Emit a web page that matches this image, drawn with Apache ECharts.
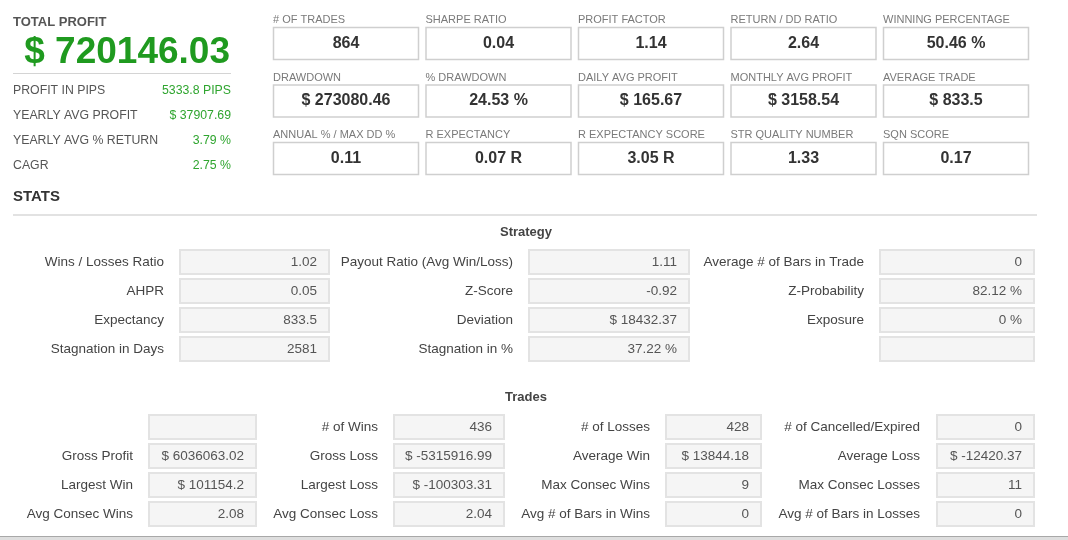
<!DOCTYPE html>
<html>
<head>
<meta charset="utf-8">
<script src="https://cdn.jsdelivr.net/npm/echarts@6/dist/echarts.min.js"></script>
<style>
html,body{margin:0;padding:0;background:#fff;}
#chart{width:1068px;height:540px;}
</style>
</head>
<body>
<div id="chart"></div>
<script>
// ---- Data ----
const totalProfitTitle = 'TOTAL PROFIT';
const totalProfit = '$ 720146.03';
const summaryLabels = ['PROFIT IN PIPS', 'YEARLY AVG PROFIT', 'YEARLY AVG % RETURN', 'CAGR'];
const summaryValues = ['5333.8 PIPS', '$ 37907.69', '3.79 %', '2.75 %'];

const kpiLabels = [
  '# OF TRADES', 'SHARPE RATIO', 'PROFIT FACTOR', 'RETURN / DD RATIO', 'WINNING PERCENTAGE',
  'DRAWDOWN', '% DRAWDOWN', 'DAILY AVG PROFIT', 'MONTHLY AVG PROFIT', 'AVERAGE TRADE',
  'ANNUAL % / MAX DD %', 'R EXPECTANCY', 'R EXPECTANCY SCORE', 'STR QUALITY NUMBER', 'SQN SCORE'
];
const kpiValues = [
  '864', '0.04', '1.14', '2.64', '50.46 %',
  '$ 273080.46', '24.53 %', '$ 165.67', '$ 3158.54', '$ 833.5',
  '0.11', '0.07 R', '3.05 R', '1.33', '0.17'
];

const sectionTitle = 'STATS';
const strategyTitle = 'Strategy';
const strategyLabels = [
  ['Wins / Losses Ratio', 'Payout Ratio (Avg Win/Loss)', 'Average # of Bars in Trade'],
  ['AHPR', 'Z-Score', 'Z-Probability'],
  ['Expectancy', 'Deviation', 'Exposure'],
  ['Stagnation in Days', 'Stagnation in %', '']
];
const strategyValues = [
  ['1.02', '1.11', '0'],
  ['0.05', '-0.92', '82.12 %'],
  ['833.5', '$ 18432.37', '0 %'],
  ['2581', '37.22 %', '']
];

const tradesTitle = 'Trades';
const tradeLabels = [
  ['', '# of Wins', '# of Losses', '# of Cancelled/Expired'],
  ['Gross Profit', 'Gross Loss', 'Average Win', 'Average Loss'],
  ['Largest Win', 'Largest Loss', 'Max Consec Wins', 'Max Consec Losses'],
  ['Avg Consec Wins', 'Avg Consec Loss', 'Avg # of Bars in Wins', 'Avg # of Bars in Losses']
];
const tradeValues = [
  ['', '436', '428', '0'],
  ['$ 6036063.02', '$ -5315916.99', '$ 13844.18', '$ -12420.37'],
  ['$ 101154.2', '$ -100303.31', '9', '11'],
  ['2.08', '2.04', '0', '0']
];

// ---- Layout / style ----
const FONT = '"Liberation Sans", Arial, sans-serif';
const els = [];
function txt(x, y, text, o) {
  els.push({
    type: 'text', x: x, y: y, silent: true,
    style: Object.assign({
      text: text, fontFamily: FONT, fontSize: 12, fill: '#555',
      align: 'left', verticalAlign: 'middle'
    }, o || {})
  });
}
function rect(x, y, w, h, fill, stroke, lw) {
  els.push({
    type: 'rect', silent: true,
    shape: { x: x, y: y, width: w, height: h },
    style: { fill: fill, stroke: stroke, lineWidth: lw }
  });
}
function line(x1, y1, x2, y2, stroke, lw) {
  els.push({
    type: 'line', silent: true,
    shape: { x1: x1, y1: y1, x2: x2, y2: y2 },
    style: { stroke: stroke, lineWidth: lw }
  });
}

// Left summary
txt(13, 22, totalProfitTitle, { fontSize: 13, fontWeight: 'bold', fill: '#555' });
txt(230, 53, totalProfit, { fontSize: 37, fontWeight: 'bold', fill: '#1f9a1f', align: 'right' });
line(13, 73.5, 231, 73.5, '#d4d4d4', 1);
summaryLabels.forEach(function (l, i) {
  const y = 91 + 25 * i;
  txt(13, y, l, { fontSize: 12.3, fill: '#555' });
  txt(231, y, summaryValues[i], { fontSize: 12.3, fill: '#2fa52f', align: 'right' });
});

// KPI boxes
kpiLabels.forEach(function (l, i) {
  const c = i % 5, r = Math.floor(i / 5);
  const bx = 273 + 152.5 * c, by = 27 + 57.5 * r;
  txt(bx, by - 7, l, { fontSize: 11, fill: '#7a7a7a' });
  rect(bx + 0.5, by + 0.5, 145, 32, '#fff', '#cfcfcf', 1.5);
  txt(bx + 73, by + 16.5, kpiValues[i], { fontSize: 16, fontWeight: 'bold', fill: '#333', align: 'center' });
});

// STATS header
txt(13, 197, sectionTitle, { fontSize: 15, fontWeight: 'bold', fill: '#333' });
line(13, 215, 1037, 215, '#e2e2e2', 2);

// Strategy grid
txt(526, 232, strategyTitle, { fontSize: 13, fontWeight: 'bold', fill: '#444', align: 'center' });
const sLabelRight = [164, 513, 864];
const sBoxX = [179, 528, 879];
const sBoxW = [151, 162, 156];
strategyLabels.forEach(function (row, r) {
  const by = 249 + 29 * r;
  row.forEach(function (l, c) {
    rect(sBoxX[c] + 1, by + 1, sBoxW[c] - 2, 24, '#f5f5f5', '#e3e3e3', 2);
    if (l) txt(sLabelRight[c], by + 13, l, { fontSize: 13.5, fill: '#444', align: 'right' });
    const v = strategyValues[r][c];
    if (v) txt(sBoxX[c] + sBoxW[c] - 13, by + 13, v, { fontSize: 13.5, fill: '#555', align: 'right' });
  });
});

// Trades grid
txt(526, 397, tradesTitle, { fontSize: 13, fontWeight: 'bold', fill: '#444', align: 'center' });
const tLabelRight = [133, 378, 650, 920];
const tBoxX = [148, 393, 665, 936];
const tBoxW = [109, 112, 97, 99];
tradeLabels.forEach(function (row, r) {
  const by = 414 + 29 * r;
  row.forEach(function (l, c) {
    rect(tBoxX[c] + 1, by + 1, tBoxW[c] - 2, 24, '#f5f5f5', '#e3e3e3', 2);
    if (l) txt(tLabelRight[c], by + 13, l, { fontSize: 13.5, fill: '#444', align: 'right' });
    const v = tradeValues[r][c];
    if (v) txt(tBoxX[c] + tBoxW[c] - 13, by + 13, v, { fontSize: 13.5, fill: '#555', align: 'right' });
  });
});

// Bottom edge
rect(0, 536, 1068, 4, '#dedede', null, 0);
line(0, 536.5, 1068, 536.5, '#a8a8a8', 1);

const chart = echarts.init(document.getElementById('chart'), null, { renderer: 'canvas' });
chart.setOption({
  backgroundColor: '#ffffff',
  animation: false,
  graphic: { elements: els }
});
</script>
</body>
</html>
